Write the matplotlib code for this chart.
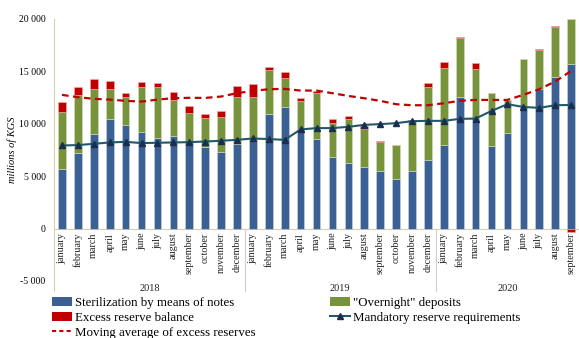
import matplotlib
matplotlib.use("Agg")
import matplotlib.pyplot as plt
import numpy as np
from matplotlib.lines import Line2D
from matplotlib.patches import Patch

months = ["january", "february", "march", "april", "may", "june", "july", "august",
          "september", "october", "november", "december"]
month_labels = months * 2 + months[:9]
years = ["2018", "2019", "2020"]

sterilization = [5700, 7250, 9000, 10500, 9900, 9250, 8600, 8800, 8300, 7800, 7350, 8100,
                 8500, 10900, 11600, 9500, 8550, 6800, 6300, 5900, 5450, 4750, 5450, 6550,
                 8000, 12600, 10600, 7900, 9150, 11650, 13350, 14500, 15750]
overnight = [5400, 5500, 4350, 2800, 2700, 4250, 4900, 3500, 2700, 2800, 3300, 4450,
             4050, 4200, 2800, 2700, 4400, 3250, 4200, 3600, 2850, 3250, 4850, 7000,
             7300, 5600, 4600, 5050, 3100, 4500, 3700, 4700, 4250]
excess = [950, 750, 900, 800, 330, 470, 400, 750, 730, 380, 570, 1070,
          1250, 350, 550, 250, 150, 450, 250, 300, 60, 0, 100, 320,
          570, 100, 570, 30, 0, -80, 80, 130, -300]
mandatory = [7930, 7970, 8090, 8220, 8280, 8160, 8190, 8220, 8250, 8310, 8380, 8470,
             8600, 8540, 8470, 9460, 9590, 9590, 9710, 9900, 9970, 10060, 10250, 10280,
             10280, 10470, 10500, 11230, 11870, 11610, 11520, 11770, 11800]
moving_avg = [12760, 12540, 12380, 12310, 12190, 12120, 12310, 12440, 12480, 12470, 12600, 12920,
              13140, 13300, 13330, 13170, 13170, 12920, 12660, 12440, 12190, 11870, 11770, 11770,
              11960, 12190, 12280, 12280, 12280, 12760, 13300, 14030, 15040]

serif = ["Liberation Serif", "DejaVu Serif"]
plt.rcParams["font.family"] = serif

W, H = 579, 338
fig = plt.figure(figsize=(W / 100, H / 100), dpi=100)
ax = fig.add_axes([54 / W, 1 - 281 / H, 1 - 54 / W, (281 - 19) / H])

n = len(sterilization)
x = np.arange(n)
ster = np.array(sterilization, float)
over = np.array(overnight, float)
exc = np.array(excess, float)

blue = "#3a6094"
green = "#77933c"
red = "#c00000"
teal = "#215968"
navy = "#1a2f4f"

bw = 0.48
ax.bar(x, ster, bw, color=blue, edgecolor="#c9d6e6", linewidth=0.4, zorder=2)
ax.bar(x, over, bw, bottom=ster, color=green, edgecolor="#d4dcc0", linewidth=0.4, zorder=2)
exc_bottom = np.where(exc >= 0, ster + over, 0)
ax.bar(x, exc, bw, bottom=exc_bottom, color=red, edgecolor="#f0b0b0", linewidth=0.4, zorder=2)

ax.plot(x, mandatory, color=teal, linewidth=1.5, marker="^", markersize=4.5,
        markerfacecolor=navy, markeredgecolor=navy, zorder=4)
ax.plot(x, moving_avg, color=red, linewidth=1.6, linestyle=(0, (3, 2)), zorder=3)

ax.set_xlim(-0.5, n - 0.5)
ax.set_ylim(-5000, 20000)
ax.set_yticks(np.arange(-5000, 20001, 5000))
ax.set_yticklabels([f"{v:,}".replace(",", " ") if v != 0 else "0"
                    for v in np.arange(-5000, 20001, 5000)], fontsize=7)
ax.tick_params(axis="y", length=0, pad=6)
ax.set_xticks([])

for s in ["top", "right", "bottom"]:
    ax.spines[s].set_visible(False)
ax.spines["left"].set_color("#d9d0a8")
ax.spines["left"].set_linewidth(0.8)
ax.spines["left"].set_bounds(-6000, 20000)
ax.spines["left"].set_clip_on(False)

ax.axhline(0, color="#d9d0a8", linewidth=0.8, zorder=1)

# month labels
for i, lab in enumerate(month_labels):
    ax.annotate(lab, xy=(i, 0), xycoords="data", xytext=(0, -3), textcoords="offset points",
                rotation=90, ha="center", va="top", fontsize=7.3, color="#222222",
                annotation_clip=False)
# year separators
for b in [11.5, 23.5]:
    ax.plot([b, b], [0, -6000], color="#d0d0d0", linewidth=0.8, clip_on=False, zorder=1)
# year labels
for k, yr in enumerate(years):
    start = 12 * k
    end = min(12 * k + 11, n - 1)
    ax.text((start + end) / 2, -5750, yr, ha="center", va="center", fontsize=7.5, color="#222222")

fig.text(12 / W, 1 - 150 / H, "millions of KGS", rotation=90, ha="center", va="center",
         fontsize=7.5, style="italic")

handles1 = [Patch(facecolor=blue), Patch(facecolor=red),
            Line2D([0], [0], color=red, linestyle=(0, (2, 1.5)), linewidth=1.5)]
labels1 = ["Sterilization by means of notes", "Excess reserve balance",
           "Moving average of excess reserves"]
handles2 = [Patch(facecolor=green),
            Line2D([0], [0], color=teal, marker="^", markersize=4, markerfacecolor=navy,
                   markeredgecolor=navy, linewidth=1.5)]
labels2 = ['"Overnight" deposits', "Mandatory reserve requirements"]

leg_kw = dict(frameon=False, fontsize=9.3, handlelength=1.55, handleheight=0.7,
              handletextpad=0.2, labelspacing=0.22, borderpad=0, borderaxespad=0)
leg1 = fig.legend(handles1, labels1, loc="upper left",
                  bbox_to_anchor=(52 / W, 1 - 297 / H), **leg_kw)
leg2 = fig.legend(handles2, labels2, loc="upper left",
                  bbox_to_anchor=(330 / W, 1 - 297 / H), **leg_kw)

fig.savefig("out.png", dpi=100)
